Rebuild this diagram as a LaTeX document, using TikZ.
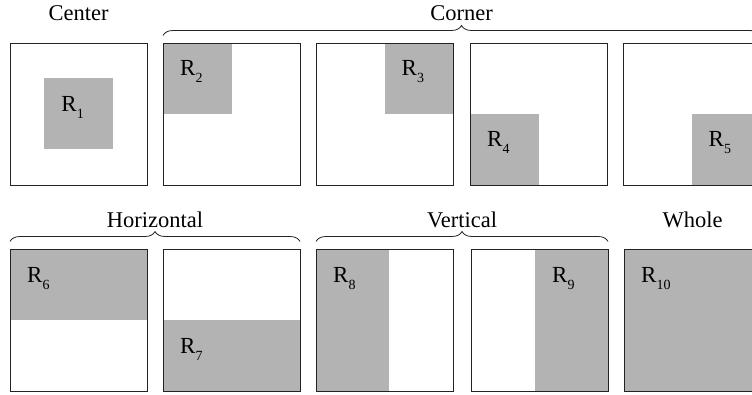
\documentclass[tikz,border=0pt]{standalone}
\usepackage{fontspec}
\setmainfont{Liberation Serif}
\usetikzlibrary{positioning, calc, decorations.pathreplacing, backgrounds}
\definecolor{regiongray}{RGB}{179,179,179}
\definecolor{framegray}{RGB}{35,35,35}
\newcommand{\reg}[1]{R\raisebox{-7pt}{\fontsize{14}{16}\selectfont #1}}

\begin{document}
\begin{tikzpicture}[x=1pt, y=1pt,
  frame/.style={draw=framegray, line width=0.9pt, minimum width=137pt, minimum height=142pt, inner sep=0pt, outer sep=0pt, anchor=north west},
  region/.style={fill=regiongray, inner sep=0pt, outer sep=0pt},
  quarter/.style={region, minimum width=68.5pt, minimum height=71pt},
  half/.style={region, minimum width=137pt, minimum height=71pt},
  strip/.style={region, minimum width=73pt, minimum height=142pt},
  regtext/.style={anchor=base west, inner sep=0pt, font=\fontsize{23}{27}\selectfont},
  title/.style={anchor=base, inner sep=0pt, font=\fontsize{22.5}{27}\selectfont},
  groupbrace/.style={draw=framegray, line width=0.8pt, decorate, decoration={brace, amplitude=10pt}}]
  \useasboundingbox (0,0) rectangle (752,394);
  \foreach \i/\x in {1/10, 2/163, 3/316, 4/470, 5/623}
    \node[frame] (b\i) at (\x,351) {};
  \foreach \i/\x in {6/10, 7/163, 8/316, 9/471, 10/624}
    \node[frame] (b\i) at (\x,145) {};
  \begin{scope}[on background layer]
    \node[quarter] (r1) at (b1.center) {};
    \node[quarter, anchor=north west] (r2) at (b2.north west) {};
    \node[quarter, anchor=north east] (r3) at (b3.north east) {};
    \node[quarter, anchor=south west] (r4) at (b4.south west) {};
    \node[quarter, anchor=south east] (r5) at (b5.south east) {};
    \node[half, anchor=north west] (r6) at (b6.north west) {};
    \node[half, anchor=south west] (r7) at (b7.south west) {};
    \node[strip, anchor=north west] (r8) at (b8.north west) {};
    \node[strip, anchor=north east] (r9) at (b9.north east) {};
    \node[region, minimum width=137pt, minimum height=142pt] (r10) at (b10.center) {};
  \end{scope}
  \foreach \i in {1,...,10}
    \node[regtext] (l\i) at ([shift={(17,-33)}]r\i.north west) {\reg{\i}};
  \node[title] (tcenter) at ([yshift=22pt]b1.north) {Center};
  \node[title] (twhole) at ([yshift=22pt]b10.north) {Whole};
  \draw[groupbrace] ([yshift=7.5pt]b2.north west) -- node[title, yshift=14.5pt] (tcorner) {Corner} ([yshift=7.5pt]b5.north east);
  \draw[groupbrace] ([yshift=7.5pt]b6.north west) -- node[title, yshift=14.5pt] (thoriz) {Horizontal} ([yshift=7.5pt]b7.north east);
  \draw[groupbrace] ([yshift=7.5pt]b8.north west) -- node[title, yshift=14.5pt] (tvert) {Vertical} ([yshift=7.5pt]b9.north east);
\end{tikzpicture}
\end{document}
